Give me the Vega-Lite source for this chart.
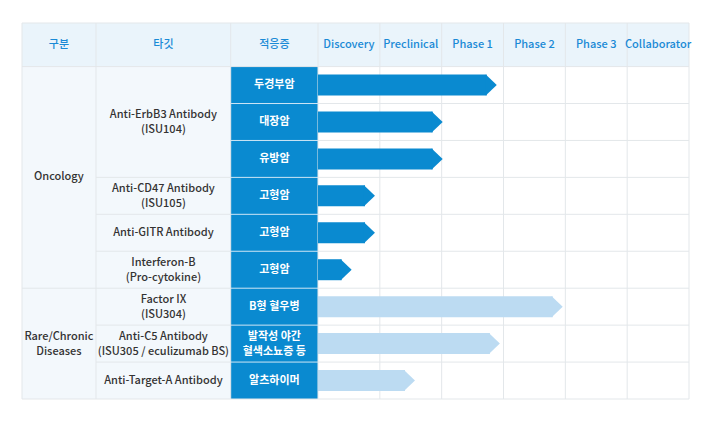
{
  "$schema": "https://vega.github.io/schema/vega-lite/v6.json",
  "width": 667,
  "height": 376,
  "autosize": {"type": "none"},
  "padding": {"left": 22, "top": 23, "right": 31, "bottom": 30},
  "background": "white",
  "config": {"view": {"stroke": null}, "axis": {"disable": true}, "text": {"font": "Noto Sans CJK KR"}},
  "datasets": {
    "pipeline": [
      {"row": 1, "indication": "두경부암", "progress": 2.73, "type": "Oncology"},
      {"row": 2, "indication": "대장암", "progress": 1.855, "type": "Oncology"},
      {"row": 3, "indication": "유방암", "progress": 1.855, "type": "Oncology"},
      {"row": 4, "indication": "고형암", "progress": 0.76, "type": "Oncology"},
      {"row": 5, "indication": "고형암", "progress": 0.76, "type": "Oncology"},
      {"row": 6, "indication": "고형암", "progress": 0.383, "type": "Oncology"},
      {"row": 7, "indication": "B형 혈우병", "progress": 3.796, "type": "Rare"},
      {"row": 8, "indication": "발작성 야간\n혈색소뇨증 등", "progress": 2.78, "type": "Rare"},
      {"row": 9, "indication": "알츠하이머", "progress": 1.407, "type": "Rare"}
    ],
    "targets": [
      {"target": "Anti-ErbB3 Antibody\n(ISU104)", "row": 2},
      {"target": "Anti-CD47 Antibody\n(ISU105)", "row": 4},
      {"target": "Anti-GITR Antibody", "row": 5},
      {"target": "Interferon-B\n(Pro-cytokine)", "row": 6},
      {"target": "Factor IX\n(ISU304)", "row": 7},
      {"target": "Anti-C5 Antibody\n(ISU305 / eculizumab BS)", "row": 8},
      {"target": "Anti-Target-A Antibody", "row": 9}
    ],
    "groups": [
      {"group": "Oncology", "row": 3.5},
      {"group": "Rare/Chronic\nDiseases", "row": 8}
    ],
    "headers": [
      {"label": "구분", "col": -4.19},
      {"label": "타깃", "col": -2.5},
      {"label": "적응증", "col": -0.706},
      {"label": "Discovery", "col": 0.5},
      {"label": "Preclinical", "col": 1.5},
      {"label": "Phase 1", "col": 2.5},
      {"label": "Phase 2", "col": 3.5},
      {"label": "Phase 3", "col": 4.5},
      {"label": "Collaborator", "col": 5.5}
    ],
    "blocks": [
      {"block": "header", "x1": -4.787, "x2": 6, "y1": -0.68, "y2": 0.5},
      {"block": "left", "x1": -4.787, "x2": -1.412, "y1": 0.5, "y2": 9.5},
      {"block": "indication", "x1": -1.412, "x2": 0, "y1": 0.5, "y2": 9.5}
    ],
    "vlines": [
      {"x": -4.787}, {"x": -3.59}, {"x": -1.412}, {"x": 0}, {"x": 1}, {"x": 2},
      {"x": 3}, {"x": 4}, {"x": 5}, {"x": 6}
    ],
    "hlines": [
      {"y": -0.68, "x1": -4.787, "x2": 6, "kind": "grid"},
      {"y": 0.5, "x1": -4.787, "x2": 6, "kind": "grid"},
      {"y": 9.5, "x1": -4.787, "x2": 6, "kind": "grid"},
      {"y": 6.5, "x1": -4.787, "x2": -3.59, "kind": "grid"},
      {"y": 3.5, "x1": -3.59, "x2": -1.412, "kind": "grid"},
      {"y": 4.5, "x1": -3.59, "x2": -1.412, "kind": "grid"},
      {"y": 5.5, "x1": -3.59, "x2": -1.412, "kind": "grid"},
      {"y": 6.5, "x1": -3.59, "x2": -1.412, "kind": "grid"},
      {"y": 7.5, "x1": -3.59, "x2": -1.412, "kind": "grid"},
      {"y": 8.5, "x1": -3.59, "x2": -1.412, "kind": "grid"},
      {"y": 1.5, "x1": 0, "x2": 6, "kind": "grid"},
      {"y": 2.5, "x1": 0, "x2": 6, "kind": "grid"},
      {"y": 3.5, "x1": 0, "x2": 6, "kind": "grid"},
      {"y": 4.5, "x1": 0, "x2": 6, "kind": "grid"},
      {"y": 5.5, "x1": 0, "x2": 6, "kind": "grid"},
      {"y": 6.5, "x1": 0, "x2": 6, "kind": "grid"},
      {"y": 7.5, "x1": 0, "x2": 6, "kind": "grid"},
      {"y": 8.5, "x1": 0, "x2": 6, "kind": "grid"},
      {"y": 1.5, "x1": -1.412, "x2": 0, "kind": "sep"},
      {"y": 2.5, "x1": -1.412, "x2": 0, "kind": "sep"},
      {"y": 3.5, "x1": -1.412, "x2": 0, "kind": "sep"},
      {"y": 4.5, "x1": -1.412, "x2": 0, "kind": "sep"},
      {"y": 5.5, "x1": -1.412, "x2": 0, "kind": "sep"},
      {"y": 6.5, "x1": -1.412, "x2": 0, "kind": "sep"},
      {"y": 7.5, "x1": -1.412, "x2": 0, "kind": "sep"},
      {"y": 8.5, "x1": -1.412, "x2": 0, "kind": "sep"}
    ]
  },
  "layer": [
    {
      "data": {"name": "blocks"},
      "transform": [{"filter": "datum.block === 'header'"}],
      "mark": {"type": "rect", "color": "#eaf4fb"},
      "encoding": {
        "x": {"field": "x1", "type": "quantitative", "scale": {"domain": [-4.787, 6], "nice": false, "zero": false, "padding": 0}},
        "x2": {"field": "x2"},
        "y": {"field": "y1", "type": "quantitative", "scale": {"domain": [-0.68, 9.5], "nice": false, "zero": false, "reverse": true, "padding": 0}},
        "y2": {"field": "y2"}
      }
    },
    {
      "data": {"name": "blocks"},
      "transform": [{"filter": "datum.block === 'left'"}],
      "mark": {"type": "rect", "color": "#f3f8fc"},
      "encoding": {"x": {"field": "x1", "type": "quantitative"}, "x2": {"field": "x2"}, "y": {"field": "y1", "type": "quantitative"}, "y2": {"field": "y2"}}
    },
    {
      "data": {"name": "blocks"},
      "transform": [{"filter": "datum.block === 'indication'"}],
      "mark": {"type": "rect", "color": "#0a8ad0"},
      "encoding": {"x": {"field": "x1", "type": "quantitative"}, "x2": {"field": "x2"}, "y": {"field": "y1", "type": "quantitative"}, "y2": {"field": "y2"}}
    },
    {
      "data": {"name": "vlines"},
      "mark": {"type": "rule", "color": "#e3e7ea", "strokeWidth": 1},
      "encoding": {"x": {"field": "x", "type": "quantitative"}}
    },
    {
      "data": {"name": "hlines"},
      "transform": [{"filter": "datum.kind === 'grid'"}],
      "mark": {"type": "rule", "color": "#e3e7ea", "strokeWidth": 1},
      "encoding": {"y": {"field": "y", "type": "quantitative"}, "x": {"field": "x1", "type": "quantitative"}, "x2": {"field": "x2"}}
    },
    {
      "data": {"name": "hlines"},
      "transform": [{"filter": "datum.kind === 'sep'"}],
      "mark": {"type": "rule", "color": "#cfe6f5", "strokeWidth": 1},
      "encoding": {"y": {"field": "y", "type": "quantitative"}, "x": {"field": "x1", "type": "quantitative"}, "x2": {"field": "x2"}}
    },
    {
      "data": {"name": "pipeline"},
      "mark": {"type": "bar", "orient": "horizontal", "height": 21},
      "encoding": {
        "y": {"field": "row", "type": "quantitative"},
        "x": {"field": "progress", "type": "quantitative"},
        "color": {"field": "type", "type": "nominal", "scale": {"domain": ["Oncology", "Rare"], "range": ["#0a8ad0", "#bcdbf2"]}, "legend": null}
      }
    },
    {
      "data": {"name": "pipeline"},
      "mark": {"type": "point", "shape": "M-0.1,-1L0.95,0L-0.1,1Z", "size": 441, "filled": true, "opacity": 1, "strokeWidth": 0},
      "encoding": {
        "y": {"field": "row", "type": "quantitative"},
        "x": {"field": "progress", "type": "quantitative"},
        "color": {"field": "type", "type": "nominal", "legend": null}
      }
    },
    {
      "data": {"name": "headers"},
      "mark": {"type": "text", "fontSize": 11, "fontWeight": 500, "color": "#1a8ad6"},
      "encoding": {"x": {"field": "col", "type": "quantitative"}, "y": {"datum": -0.09, "type": "quantitative"}, "text": {"field": "label", "type": "nominal"}}
    },
    {
      "data": {"name": "groups"},
      "transform": [{"filter": "indexof(datum.group, '\\n') < 0"}],
      "mark": {"type": "text", "fontSize": 11, "fontWeight": 500, "color": "#333333"},
      "encoding": {"x": {"datum": -4.19, "type": "quantitative"}, "y": {"field": "row", "type": "quantitative"}, "text": {"field": "group", "type": "nominal"}}
    },
    {
      "data": {"name": "groups"},
      "transform": [{"filter": "indexof(datum.group, '\\n') >= 0"}],
      "mark": {"type": "text", "fontSize": 11, "fontWeight": 500, "color": "#333333", "lineBreak": "\n", "lineHeight": 15, "dy": -6.5},
      "encoding": {"x": {"datum": -4.19, "type": "quantitative"}, "y": {"field": "row", "type": "quantitative"}, "text": {"field": "group", "type": "nominal"}}
    },
    {
      "data": {"name": "targets"},
      "transform": [{"filter": "indexof(datum.target, '\\n') < 0"}],
      "mark": {"type": "text", "fontSize": 11, "fontWeight": 500, "color": "#333333"},
      "encoding": {"x": {"datum": -2.5, "type": "quantitative"}, "y": {"field": "row", "type": "quantitative"}, "text": {"field": "target", "type": "nominal"}}
    },
    {
      "data": {"name": "targets"},
      "transform": [{"filter": "indexof(datum.target, '\\n') >= 0"}],
      "mark": {"type": "text", "fontSize": 11, "fontWeight": 500, "color": "#333333", "lineBreak": "\n", "lineHeight": 15, "dy": -6.5},
      "encoding": {"x": {"datum": -2.5, "type": "quantitative"}, "y": {"field": "row", "type": "quantitative"}, "text": {"field": "target", "type": "nominal"}}
    },
    {
      "data": {"name": "pipeline"},
      "transform": [{"filter": "indexof(datum.indication, '\\n') < 0"}],
      "mark": {"type": "text", "fontSize": 11, "fontWeight": "bold", "color": "white"},
      "encoding": {"x": {"datum": -0.706, "type": "quantitative"}, "y": {"field": "row", "type": "quantitative"}, "text": {"field": "indication", "type": "nominal"}}
    },
    {
      "data": {"name": "pipeline"},
      "transform": [{"filter": "indexof(datum.indication, '\\n') >= 0"}],
      "mark": {"type": "text", "fontSize": 11, "fontWeight": "bold", "color": "white", "lineBreak": "\n", "lineHeight": 15, "dy": -6.5},
      "encoding": {"x": {"datum": -0.706, "type": "quantitative"}, "y": {"field": "row", "type": "quantitative"}, "text": {"field": "indication", "type": "nominal"}}
    }
  ]
}
